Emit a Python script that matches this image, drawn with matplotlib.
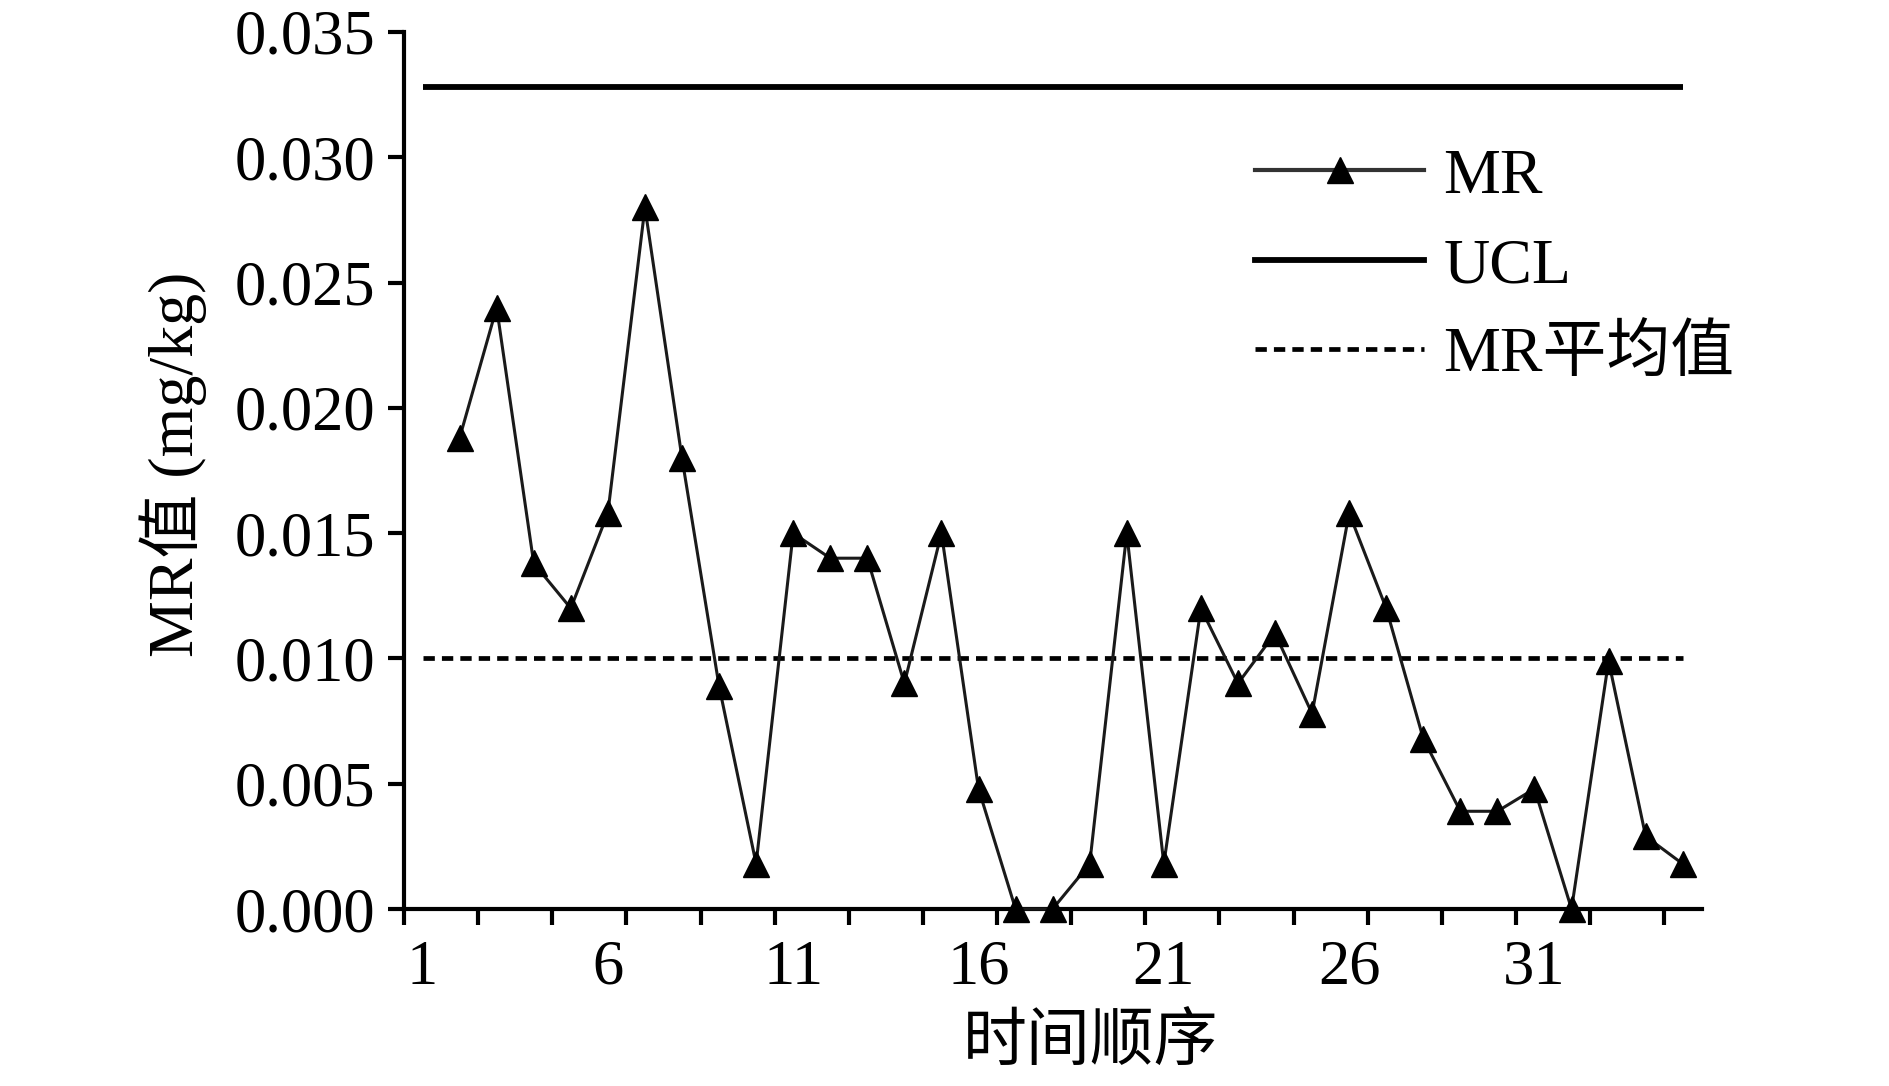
import numpy as np
import matplotlib
matplotlib.use("Agg")
import matplotlib.pyplot as plt
from matplotlib.lines import Line2D

plt.rcParams['font.family'] = ['Liberation Serif', 'Noto Sans CJK SC']

# data
order = list(range(2, 36))
mr = [0.0188, 0.0240, 0.0138, 0.0120, 0.0158, 0.0280, 0.0180, 0.0089, 0.0018,
      0.0150, 0.0140, 0.0140, 0.0090, 0.0150, 0.0048, 0.0000, 0.0000, 0.0018,
      0.0150, 0.0018, 0.0120, 0.0090, 0.0110, 0.0078, 0.0158, 0.0120, 0.0068,
      0.0039, 0.0039, 0.0048, 0.0000, 0.0099, 0.0029, 0.0018]
ucl = 0.0328
mr_mean = 0.0100
line_span = [1, 35]

xtick_pos = [1, 6, 11, 16, 21, 26, 31]
xtick_labels = ['1', '6', '11', '16', '21', '26', '31']
yticks = [0.000, 0.005, 0.010, 0.015, 0.020, 0.025, 0.030, 0.035]

fig = plt.figure(figsize=(18.9, 10.86), dpi=100)
ax = fig.add_axes([404 / 1890, 1 - 909 / 1086, 1298 / 1890, 877 / 1086])

ax.plot(order, mr, color='#1a1a1a', lw=2.2, marker='^', markersize=19,
        markerfacecolor='black', markeredgecolor='black', clip_on=False, zorder=3)
ax.plot(line_span, [ucl, ucl], color='black', lw=4.2, solid_capstyle='butt')
ax.plot(line_span, [mr_mean, mr_mean], color='black', lw=3.4,
        dashes=(2.4, 1.5))

ax.set_xlim(0.5, 35.52)
ax.set_ylim(0, 0.035)

ax.spines['top'].set_visible(False)
ax.spines['right'].set_visible(False)
for s in ['left', 'bottom']:
    ax.spines[s].set_linewidth(3)

ax.set_yticks(yticks)
ax.set_yticklabels([f'{v:.3f}' for v in yticks])
ax.set_xticks(xtick_pos)
ax.set_xticklabels(xtick_labels)
ax.set_xticks(np.arange(0.5, 35, 2), minor=True)
ax.tick_params(axis='x', which='major', length=0, pad=22, labelsize=45)
ax.tick_params(axis='x', which='minor', length=11.5, width=3, direction='out')
ax.tick_params(axis='y', length=11.5, width=3, direction='out', pad=9, labelsize=45)

ax.set_xlabel('时间顺序', fontsize=46)
ax.xaxis.set_label_coords(0.529, -0.122)
ax.set_ylabel('MR值 (mg/kg)', fontsize=46)
ax.yaxis.set_label_coords(-0.152, 0.507)

handles = [
    Line2D([], [], color='#333333', lw=3, marker='^', markersize=19,
           markerfacecolor='black', markeredgecolor='black'),
    Line2D([], [], color='black', lw=4.2),
    Line2D([], [], color='black', lw=3.4, dashes=(2.4, 1.5)),
]
fig.legend(handles, ['MR', 'UCL', 'MR平均值'], loc='upper left',
           bbox_to_anchor=(1255 / 1890, 1 - 148 / 1086), frameon=False,
           fontsize=46, handlelength=2.65, handletextpad=0.3,
           labelspacing=0.48, borderpad=0, borderaxespad=0, numpoints=1)

fig.savefig('out.png', dpi=100)
